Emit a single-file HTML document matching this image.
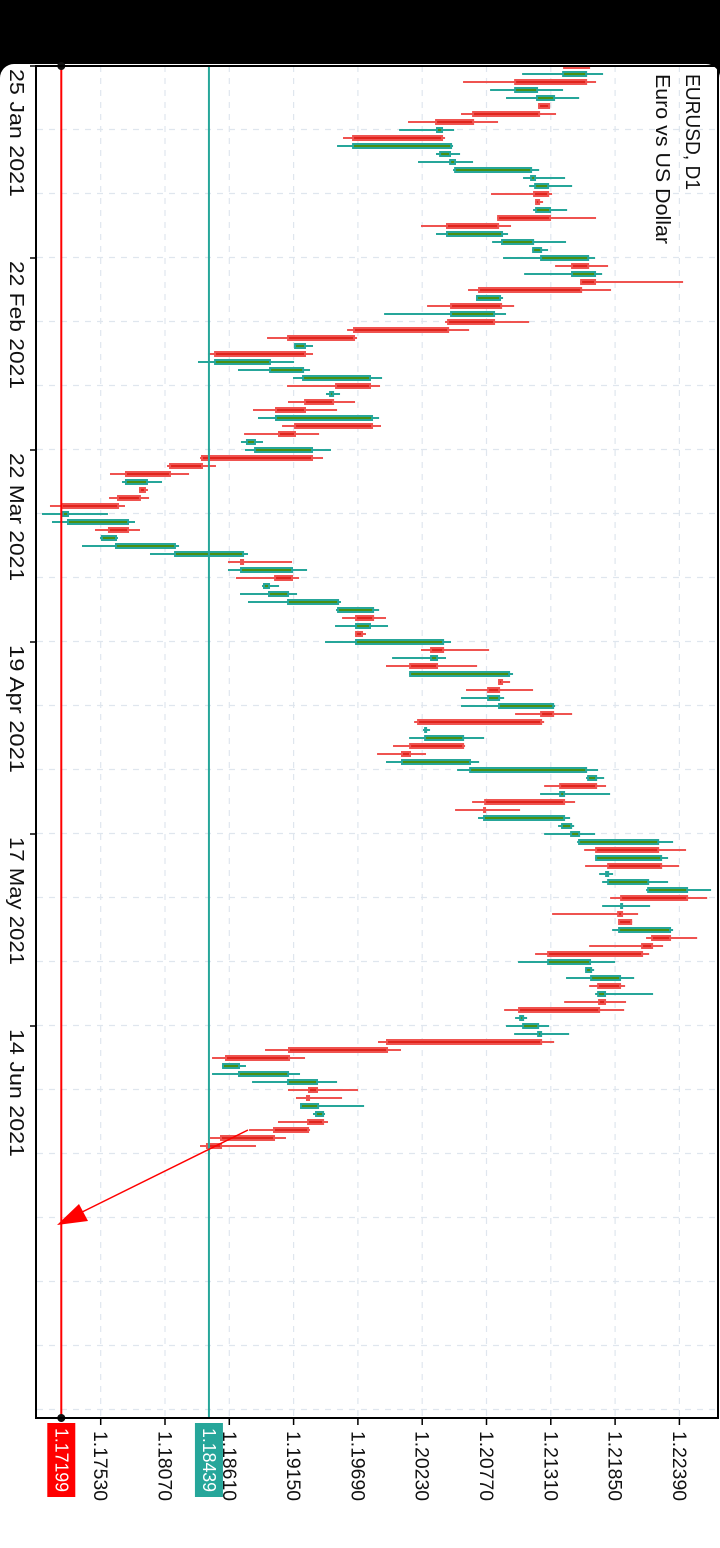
<!DOCTYPE html>
<html><head><meta charset="utf-8"><style>
html,body{margin:0;padding:0;background:#fff;}
svg{display:block;}
text{font-family:"Liberation Sans",sans-serif;}
</style></head><body>
<svg id="chart" width="720" height="1548" viewBox="0 0 720 1548" xmlns="http://www.w3.org/2000/svg">
  <rect x="0" y="0" width="720" height="1548" fill="#fff"/>
  <rect x="0" y="0" width="720" height="78" fill="#000"/>
  <rect x="0" y="64" width="720" height="1484" rx="14" fill="#fff"/>
  <rect x="0" y="100" width="720" height="1448" fill="#fff"/>
  <g id="grid"></g>
  <defs><clipPath id="plotclip"><rect x="37" y="66" width="680" height="1352"/></clipPath></defs>
  <g id="candles" clip-path="url(#plotclip)"></g>
  <g id="overlay"></g>
  <g id="axes"></g>
</svg>
<script>
const priceTicks = [1.17530, 1.18070, 1.18610, 1.19150, 1.19690, 1.20230, 1.20770, 1.21310, 1.21850, 1.22390];
const priceTickLabels = ["1.17530","1.18070","1.18610","1.19150","1.19690","1.20230","1.20770","1.21310","1.21850","1.22390"];
const dateLabels = ["25 Jan 2021","22 Feb 2021","22 Mar 2021","19 Apr 2021","17 May 2021","14 Jun 2021"];
const dateIndex = [0, 24, 48, 72, 96, 120];
const opens = [1.21640,1.21405,1.21615,1.21002,1.21186,1.21304,1.21220,1.20666,1.20346,1.20405,1.19641,1.20372,1.20456,1.20498,1.21136,1.21170,1.21296,1.21220,1.21178,1.21312,1.20876,1.20430,1.20892,1.21153,1.21220,1.21632,1.21480,1.21690,1.21573,1.20682,1.20901,1.20464,1.20842,1.20456,1.19666,1.19154,1.19254,1.18482,1.18944,1.19221,1.19800,1.19448,1.19490,1.19254,1.18994,1.19817,1.19170,1.18750,1.18818,1.19313,1.18389,1.18120,1.17734,1.17910,1.17868,1.17684,1.17205,1.17247,1.17768,1.17532,1.17650,1.18146,1.18734,1.18700,1.19145,1.18893,1.18935,1.19095,1.19515,1.19826,1.19666,1.19733,1.19666,1.20414,1.20296,1.20363,1.20120,1.20909,1.20884,1.20775,1.20867,1.21338,1.21237,1.20246,1.20246,1.20582,1.20136,1.20052,1.20624,1.21615,1.21699,1.21380,1.21430,1.20766,1.20741,1.21396,1.21472,1.21539,1.22220,1.21682,1.22245,1.21766,1.21783,1.22119,1.22463,1.21892,1.21917,1.21993,1.21875,1.22320,1.22169,1.22085,1.21279,1.21598,1.21640,1.21900,1.21699,1.21774,1.21724,1.21044,1.21069,1.21195,1.21237,1.19943,1.19120,1.18549,1.18683,1.19095,1.19355,1.19288,1.19204,1.19330,1.19406,1.19280,1.18994,1.18549];
const highs = [1.21657,1.21749,1.21690,1.21413,1.21548,1.21304,1.21354,1.20867,1.20498,1.20422,1.20489,1.20548,1.20657,1.21212,1.21430,1.21489,1.21321,1.21245,1.21447,1.21690,1.20976,1.20951,1.21438,1.21287,1.21682,1.21791,1.21741,1.22421,1.21816,1.20909,1.21002,1.20934,1.21128,1.20624,1.19683,1.19313,1.19313,1.19154,1.19288,1.19893,1.19876,1.19540,1.19666,1.19515,1.19868,1.19884,1.19364,1.18893,1.19464,1.19397,1.18498,1.18272,1.18045,1.17927,1.17936,1.17734,1.17591,1.17818,1.17860,1.17675,1.18188,1.18767,1.19137,1.19263,1.19196,1.19028,1.19179,1.19548,1.19868,1.19926,1.19943,1.19758,1.20472,1.20792,1.20430,1.20691,1.20993,1.20968,1.21161,1.20918,1.21346,1.21489,1.21254,1.20296,1.20750,1.20590,1.20262,1.20708,1.21707,1.21758,1.21774,1.21808,1.21514,1.21052,1.21472,1.21506,1.21682,1.22337,1.22446,1.22295,1.22388,1.21833,1.22295,1.22656,1.22623,1.22144,1.22043,1.21993,1.22337,1.22539,1.22253,1.22136,1.21850,1.21674,1.22010,1.21934,1.22169,1.21942,1.21926,1.21111,1.21296,1.21464,1.21338,1.20052,1.19246,1.18750,1.19204,1.19515,1.19691,1.19557,1.19742,1.19414,1.19439,1.19288,1.19086,1.18834];
const lows = [1.21405,1.21069,1.20573,1.20800,1.20934,1.21203,1.20556,1.20111,1.20036,1.19565,1.19515,1.20346,1.20195,1.20489,1.21077,1.21128,1.20808,1.21178,1.21161,1.20859,1.20220,1.20346,1.20817,1.21153,1.20909,1.21346,1.21086,1.21556,1.20615,1.20682,1.20271,1.19910,1.20422,1.19599,1.18927,1.19154,1.18431,1.18347,1.18683,1.19145,1.19095,1.19422,1.19103,1.18809,1.18851,1.19053,1.18734,1.18708,1.18742,1.18364,1.18087,1.17608,1.17709,1.17852,1.17600,1.17104,1.17037,1.17121,1.17482,1.17524,1.17373,1.17944,1.18599,1.18599,1.18666,1.18885,1.18700,1.18767,1.19506,1.19557,1.19498,1.19666,1.19414,1.20220,1.19977,1.19926,1.20120,1.20867,1.20598,1.20556,1.20556,1.21010,1.20162,1.20237,1.20120,1.19985,1.19851,1.19926,1.20523,1.21606,1.21254,1.21220,1.20649,1.20506,1.20699,1.21371,1.21254,1.21531,1.21590,1.21682,1.21598,1.21716,1.21741,1.22110,1.21808,1.21741,1.21321,1.21875,1.21825,1.22110,1.21632,1.21178,1.21035,1.21598,1.21438,1.21632,1.21682,1.21422,1.20918,1.21010,1.20934,1.21002,1.19859,1.18910,1.18465,1.18549,1.18465,1.18801,1.19103,1.19170,1.19254,1.19313,1.19019,1.18776,1.18448,1.18364];
const closes = [1.21413,1.21615,1.21002,1.21203,1.21346,1.21203,1.20649,1.20338,1.20405,1.19641,1.20481,1.20472,1.20514,1.21153,1.21186,1.21296,1.21161,1.21178,1.21312,1.20859,1.20430,1.20909,1.21170,1.21237,1.21632,1.21480,1.21690,1.21556,1.20699,1.20892,1.20464,1.20842,1.20439,1.19649,1.19095,1.19254,1.18482,1.18960,1.19238,1.19800,1.19498,1.19490,1.19238,1.18994,1.19817,1.19154,1.19019,1.18834,1.19313,1.18372,1.18104,1.17734,1.17927,1.17852,1.17667,1.17196,1.17264,1.17768,1.17591,1.17667,1.18162,1.18734,1.18700,1.19145,1.18986,1.18952,1.19112,1.19532,1.19826,1.19666,1.19800,1.19666,1.20414,1.20296,1.20363,1.20120,1.20968,1.20867,1.20775,1.20884,1.21338,1.21220,1.20187,1.20262,1.20582,1.20120,1.20052,1.20640,1.21615,1.21699,1.21380,1.21430,1.20750,1.20741,1.21430,1.21489,1.21556,1.22220,1.21682,1.22245,1.21783,1.21800,1.22136,1.22463,1.21892,1.21917,1.21867,1.21875,1.22320,1.22152,1.22068,1.21279,1.21648,1.21657,1.21900,1.21699,1.21774,1.21707,1.21035,1.21086,1.21212,1.21237,1.19926,1.19103,1.18574,1.18700,1.19112,1.19355,1.19271,1.19254,1.19364,1.19406,1.19263,1.18977,1.18532,1.18414];
const bidPrice = 1.17199;
const linePrice = 1.18439;

const NS = "http://www.w3.org/2000/svg";
function xs(p){ return 100.7 + (p - 1.17530) / 0.0054 * 64.3; }
function ys(i){ return 66 + 8 * i; }
function mk(tag, attrs, parent){
  const e = document.createElementNS(NS, tag);
  for (const k in attrs) e.setAttribute(k, attrs[k]);
  parent.appendChild(e);
  return e;
}
const grid = document.getElementById('grid');
const candles = document.getElementById('candles');
const overlay = document.getElementById('overlay');
const axes = document.getElementById('axes');

// grid
priceTicks.forEach(function(p){
  const l = mk('line', {x1:xs(p), x2:xs(p), y1:66, y2:1418, stroke:'#dfe6ee', 'stroke-width':1.2, 'stroke-dasharray':'6,6'}, grid);
  
  
});
for (let k = 1; k <= 21; k++){
  const y = 65.5 + 64 * k;
  const l = mk('line', {x1:37, x2:717, y1:y, y2:y, stroke:'#dfe6ee', 'stroke-width':1.2, 'stroke-dasharray':'6,6'}, grid);
  
  
}

// candles
for (let i = 0; i < opens.length; i++){
  const o = opens[i], h = highs[i], lo = lows[i], c = closes[i];
  const up = c >= o;
  const col = up ? '#26a69a' : '#ef5350';
  const inner = up ? '#4a9012' : '#e0241c';
  const y = ys(i);
  const g = mk('g', {}, candles);
  
  
  mk('rect', {x:xs(lo), y:y-1, width:Math.max(1, xs(h)-xs(lo)), height:2, fill:col}, g);
  const a = xs(Math.min(o,c)), b = xs(Math.max(o,c));
  const w = Math.max(3, b - a);
  mk('rect', {x:a, y:y-3, width:w, height:6, fill:col}, g);
  if (w > 4) mk('rect', {x:a+2, y:y-1, width:w-4, height:2, fill:inner}, g);
}

// horizontal price lines (rotated chart -> vertical)
const teal = mk('line', {x1:xs(linePrice), x2:xs(linePrice), y1:66, y2:1418, stroke:'#26a69a', 'stroke-width':2}, overlay);


const red = mk('line', {x1:xs(bidPrice), x2:xs(bidPrice), y1:66, y2:1418, stroke:'#ff0000', 'stroke-width':2}, overlay);


const d1 = mk('circle', {cx:xs(bidPrice), cy:66, r:4, fill:'#111'}, overlay);


const d2 = mk('circle', {cx:xs(bidPrice), cy:1418, r:4, fill:'#111'}, overlay);


const arr = mk('line', {x1:248, y1:1130, x2:66, y2:1220, stroke:'#ff0000', 'stroke-width':1.5}, overlay);


const head = mk('polygon', {points:'57,1225 79,1204 88,1221', fill:'#ff0000'}, overlay);



// frame
const fr = mk('path', {d:'M36,66 H718 V1418 H36 Z', fill:'none', stroke:'#000', 'stroke-width':2}, axes);



// price axis
priceTicks.forEach(function(p, k){
  const x = xs(p);
  mk('line', {x1:x, x2:x, y1:1418, y2:1425, stroke:'#000', 'stroke-width':1.5}, axes);
  const t = mk('text', {transform:'translate(' + (x-1) + ',1431) rotate(90)', 'font-size':19, fill:'#111', 'dominant-baseline':'central', textLength:70, lengthAdjust:'spacingAndGlyphs'}, axes);
  
  
  t.textContent = priceTickLabels[k];
});
function priceTag(p, color, name){
  const x = xs(p);
  const r = mk('rect', {x:x-14, y:1423, width:28, height:74, fill:color}, axes);
  
  
  const t = mk('text', {transform:'translate(' + x + ',1428) rotate(90)', 'font-size':18, fill:'#fff', 'dominant-baseline':'central', textLength:64, lengthAdjust:'spacingAndGlyphs'}, axes);
  
  
  t.textContent = p.toFixed(5);
}
priceTag(bidPrice, '#ff0000', 'bid-price-tag');
priceTag(linePrice, '#26a69a', 'line-price-tag');

// date axis
dateLabels.forEach(function(s, k){
  const y = ys(dateIndex[k]);
  mk('line', {x1:30, x2:36, y1:y, y2:y, stroke:'#000', 'stroke-width':1.5}, axes);
  const t = mk('text', {transform:'translate(16,' + (y+3) + ') rotate(90)', 'font-size':20, fill:'#111', 'dominant-baseline':'central', textLength:128, lengthAdjust:'spacingAndGlyphs'}, axes);
  
  
  t.textContent = s;
});

// title
const t1 = mk('text', {transform:'translate(692,74) rotate(90)', 'font-size':20, fill:'#111', 'dominant-baseline':'central', textLength:116, lengthAdjust:'spacingAndGlyphs'}, axes);


t1.textContent = 'EURUSD, D1';
const t2 = mk('text', {transform:'translate(662,74) rotate(90)', 'font-size':20, fill:'#111', 'dominant-baseline':'central', textLength:170, lengthAdjust:'spacingAndGlyphs'}, axes);


t2.textContent = 'Euro vs US Dollar';
</script>
</body></html>
